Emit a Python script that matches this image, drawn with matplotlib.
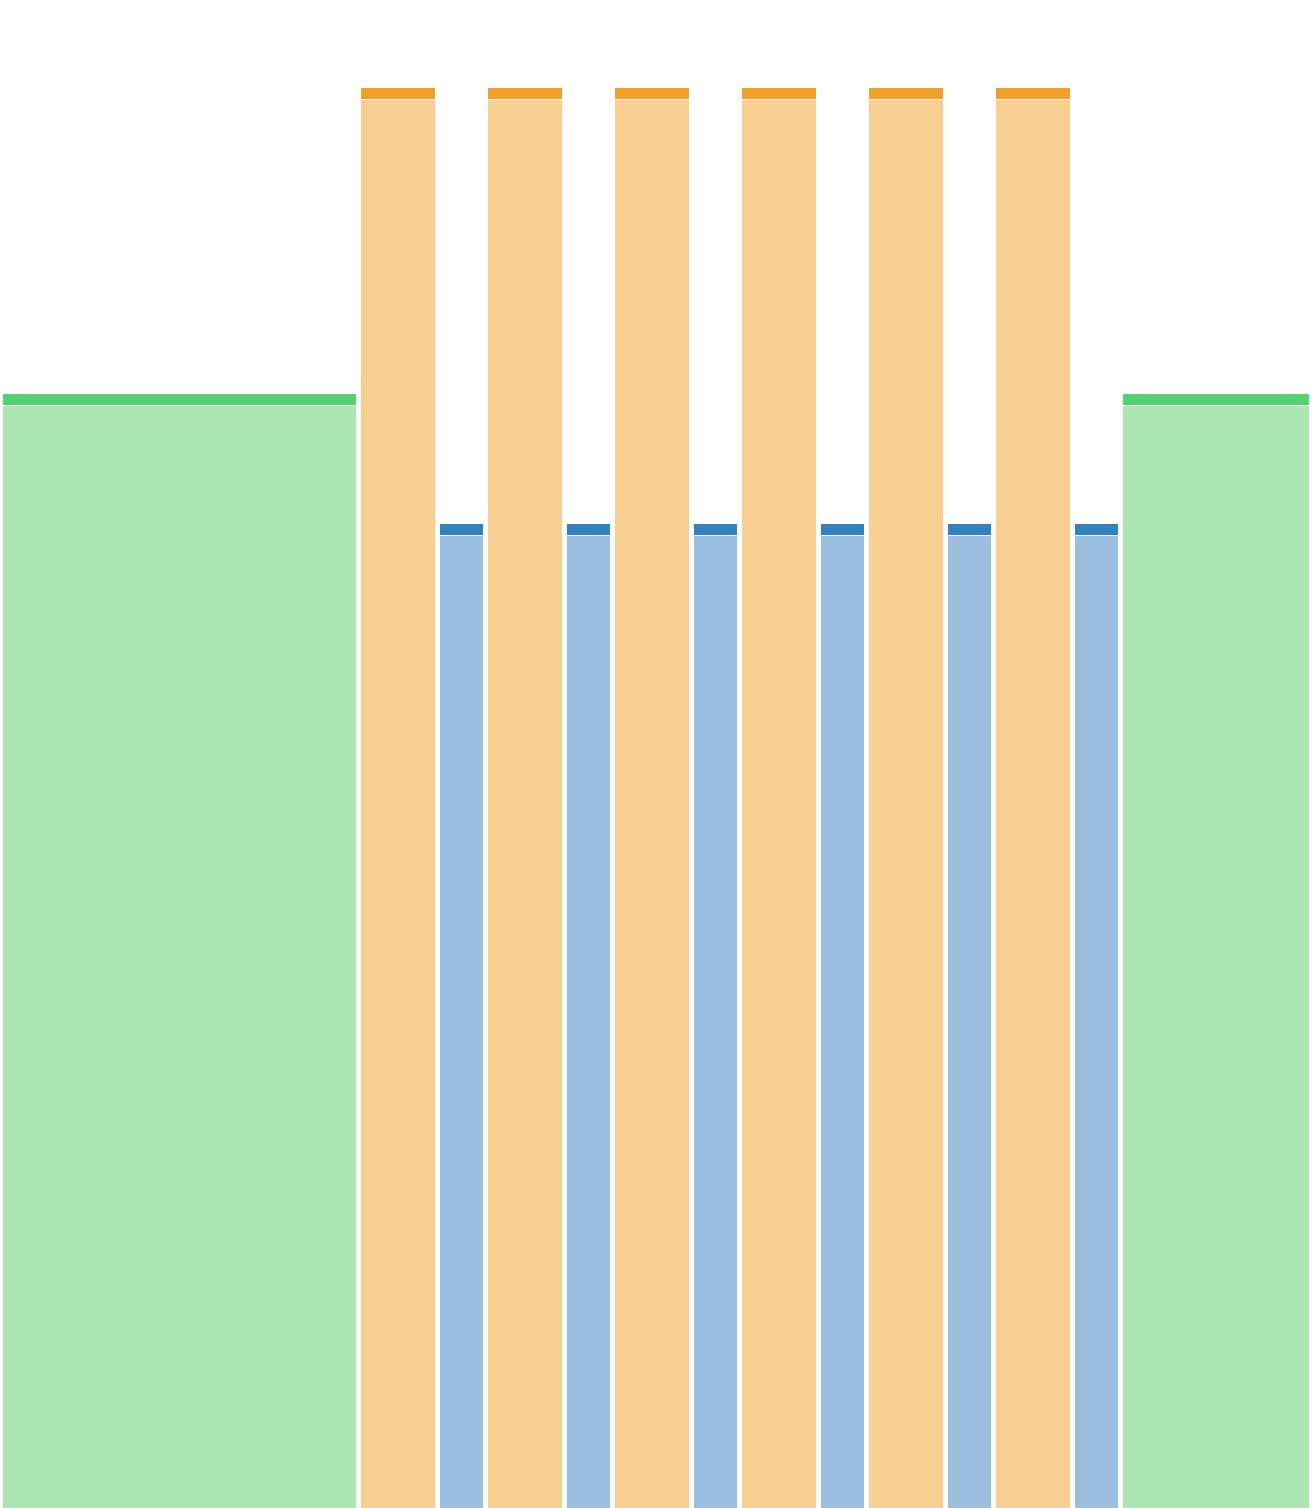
import numpy as np
import matplotlib
matplotlib.use('Agg')
import matplotlib.pyplot as plt

# bar groups, left to right (variable width bars)
groups = ['green', 'orange', 'blue', 'orange', 'blue', 'orange', 'blue',
          'orange', 'blue', 'orange', 'blue', 'orange', 'blue', 'green']
widths = [358, 79, 48, 79, 48, 79, 48, 79, 48, 79, 48, 79, 48, 191]
values = [1114.5, 1420, 984, 1420, 984, 1420, 984,
          1420, 984, 1420, 984, 1420, 984, 1114.5]

CAP_COLORS = {'green': '#56d16f', 'orange': '#f0a026', 'blue': '#3182c4'}
FILL_COLORS = {'green': '#abe6b3', 'orange': '#f6cf91', 'blue': '#9bbfdf'}

GAP = 5
CAP_H = 11


def main():
    fig = plt.figure(figsize=(13.12, 15.08), dpi=100)
    ax = fig.add_axes([0, 0, 1, 1])

    lefts = 0.5 + np.concatenate([[0], np.cumsum(widths[:-1])])
    for left, w, v, g in zip(lefts, widths, values, groups):
        ax.bar(left + GAP / 2, v - CAP_H - 1, width=w - GAP, align='edge',
               color=FILL_COLORS[g], linewidth=0)
        ax.bar(left + GAP / 2, CAP_H, bottom=v - CAP_H, width=w - GAP,
               align='edge', color=CAP_COLORS[g], linewidth=0)

    ax.set_xlim(0, 1312)
    ax.set_ylim(0, 1508)
    ax.axis('off')
    fig.savefig('out.png', dpi=100, facecolor='white')


if __name__ == '__main__':
    main()
